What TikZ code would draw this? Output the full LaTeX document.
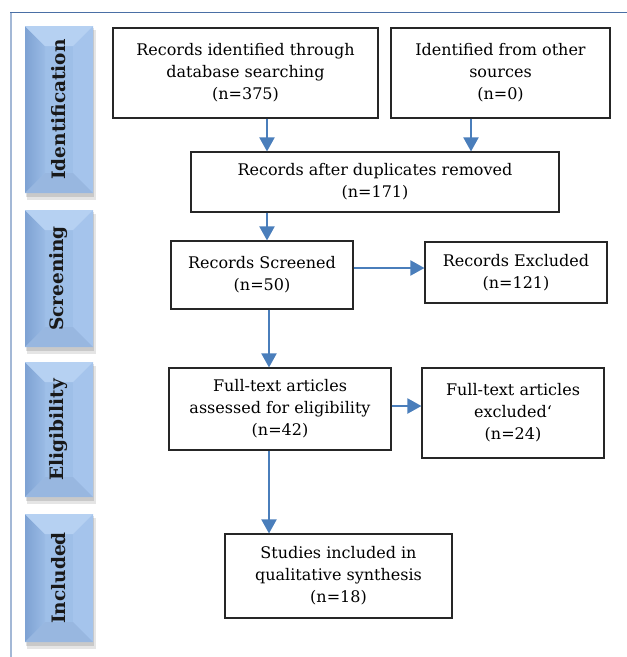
\documentclass[tikz,border=0pt]{standalone}
\usepackage{fontspec}
\setmainfont{DejaVu Serif}
\usepackage{tikz}
\usetikzlibrary{arrows.meta}

\definecolor{flowblue}{HTML}{4A7EBB}
\definecolor{frametop}{HTML}{4A6FA5}
\definecolor{frameleft}{HTML}{A3B8D6}
\definecolor{phtop}{HTML}{B6D1F2}
\definecolor{phleftA}{HTML}{7EA2D3}
\definecolor{phleftB}{HTML}{9ABBE5}
\definecolor{phright}{HTML}{A5C4EC}
\definecolor{phbottom}{HTML}{98B7E0}
\definecolor{phmid}{HTML}{9EBFE8}

\begin{document}
\begin{tikzpicture}[x=1pt, y=-1pt,
    box/.style={draw=black!85, line width=1.1pt, align=center, inner sep=0pt,
                font=\fontsize{16}{22}\selectfont},
    flow/.style={draw=flowblue, line width=2pt, -{Triangle[length=14pt,width=15pt]}},
    phase/.style={rotate=90, font=\fontsize{18.5}{20}\selectfont\bfseries, text=black!90}]
    \useasboundingbox (0,0) rectangle (627,657);

    % Frame
    \draw [frameleft, line width=2pt] (11,12) -- (11,657);
    \draw [frametop, line width=1pt]  (10,12) -- (627,12);

    % Phase labels {Identification, Screening, Eligibility, Included}
    \foreach \yt/\yb/\lab [count=\i] in {26/193/Identification, 210/347/Screening,
                                         362/497/Eligibility, 514/642/Included} {
        \fill [black, opacity=.10] (27,\yt+4) rectangle (96,\yb+7);
        \fill [black, opacity=.12] (26,\yt+2) rectangle (94,\yb+4);
        \fill [phmid] (25,\yt) rectangle (93,\yb);
        \shade [left color=phleftA, right color=phleftB]
            (25,\yt) -- (45,\yt+20) -- (45,\yb-20) -- (25,\yb) -- cycle;
        \fill [phright] (93,\yt) -- (73,\yt+20) -- (73,\yb-20) -- (93,\yb) -- cycle;
        \fill [phtop] (25,\yt) -- (93,\yt) -- (73,\yt+20) -- (45,\yt+20) -- cycle;
        \fill [phbottom] (25,\yb) -- (93,\yb) -- (73,\yb-20) -- (45,\yb-20) -- cycle;
        \node [phase] (phase\i) at (59,{(\yt+\yb)/2}) {\lab};
    }

    % Boxes {db, other, dup, scr, exc, ft, fte, stu}
    \node [box, minimum width=265pt, minimum height=90pt] (db)    at (245.5,73)  {Records identified through\\database searching\\(n=375)};
    \node [box, minimum width=219pt, minimum height=90pt] (other) at (500.5,73)  {Identified from other\\sources\\(n=0)};
    \node [box, minimum width=368pt, minimum height=60pt] (dup)   at (375,182)   {Records after duplicates removed\\(n=171)};
    \node [box, minimum width=182pt, minimum height=68pt] (scr)   at (262,275)   {Records Screened\\(n=50)};
    \node [box, minimum width=182pt, minimum height=61pt] (exc)   at (516,272.5) {Records Excluded\\(n=121)};
    \node [box, minimum width=222pt, minimum height=82pt] (ft)    at (280,409)   {Full-text articles\\assessed for eligibility\\(n=42)};
    \node [box, minimum width=182pt, minimum height=90pt] (fte)   at (513,413)   {Full-text articles\\excluded‘\\(n=24)};
    \node [box, minimum width=227pt, minimum height=84pt] (stu)   at (338.5,576) {Studies included in\\qualitative synthesis\\(n=18)};

    % Arrow lanes
    \coordinate (laneA) at (267,0);
    \coordinate (laneB) at (471,0);
    \coordinate (laneC) at (269,0);
    \coordinate (rowA)  at (0,268);
    \coordinate (rowB)  at (0,406);

    % Paths
    \draw [flow] (db.south -| laneA)    -- (dup.north -| laneA);
    \draw [flow] (other.south -| laneB) -- (dup.north -| laneB);
    \draw [flow] (dup.south -| laneA)   -- (scr.north -| laneA);
    \draw [flow] (scr.east |- rowA)     -- (exc.west |- rowA);
    \draw [flow] (scr.south -| laneC)   -- (ft.north -| laneC);
    \draw [flow] (ft.east |- rowB)      -- (fte.west |- rowB);
    \draw [flow] (ft.south -| laneC)    -- (stu.north -| laneC);

\end{tikzpicture}
\end{document}
